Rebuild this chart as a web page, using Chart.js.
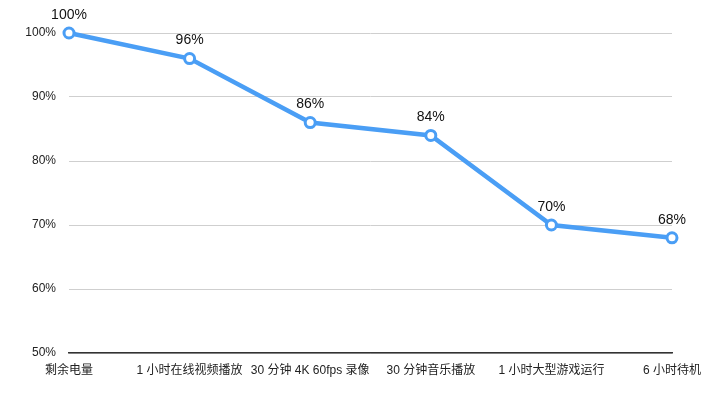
<!DOCTYPE html>
<html>
<head>
<meta charset="utf-8">
<script src="https://cdn.jsdelivr.net/npm/chart.js@4/dist/chart.umd.min.js"></script>
<style>
  html, body { margin: 0; padding: 0; background: #fff; }
  #wrap { width: 720px; height: 397px; }
</style>
</head>
<body>
<div id="wrap"><canvas id="batteryChart"></canvas></div>
<script>
const categories = ['剩余电量', '1 小时在线视频播放', '30 分钟 4K 60fps 录像', '30 分钟音乐播放', '1 小时大型游戏运行', '6 小时待机'];
const batteryLevels = [100, 96, 86, 84, 70, 68];

const FONT = '"Liberation Sans", "Noto Sans CJK SC", sans-serif';
const BLUE = 'rgb(74, 158, 245)';

// draws the value above each point
const valueLabels = {
  id: 'valueLabels',
  afterDatasetsDraw(chart) {
    const ctx = chart.ctx;
    const meta = chart.getDatasetMeta(0);
    ctx.save();
    ctx.font = '14px ' + FONT;
    ctx.fillStyle = '#111';
    ctx.textAlign = 'center';
    ctx.textBaseline = 'bottom';
    meta.data.forEach((pt, i) => {
      ctx.fillText(batteryLevels[i] + '%', pt.x, pt.y - 11);
    });
    ctx.restore();
  }
};

const ctx = document.getElementById('batteryChart').getContext('2d');
new Chart(ctx, {
  type: 'line',
  data: {
    labels: categories,
    datasets: [{
      data: batteryLevels,
      borderColor: BLUE,
      borderWidth: 4.5,
      pointRadius: 5,
      pointBorderWidth: 3,
      pointBackgroundColor: '#fff',
      pointBorderColor: BLUE,
      tension: 0,
      clip: false
    }]
  },
  options: {
    responsive: true,
    maintainAspectRatio: false,
    animation: false,
    layout: { padding: { top: 33, right: 48, left: 0, bottom: 0 } },
    plugins: {
      legend: { display: false },
      tooltip: { enabled: false }
    },
    scales: {
      x: {
        offset: false,
        grid: { display: false },
        border: { display: true, color: '#333', width: 1.5 },
        ticks: {
          color: '#222',
          font: { family: FONT, size: 12 },
          padding: 2,
          maxRotation: 0,
          autoSkip: false
        },
        afterFit(scale) { scale.height = 44; }
      },
      y: {
        min: 50,
        max: 100,
        grid: { color: '#cfcfcf', lineWidth: 1, drawTicks: false },
        border: { display: false },
        ticks: {
          stepSize: 10,
          color: '#222',
          font: { family: FONT, size: 12 },
          padding: 13,
          callback: v => v + '%'
        },
        afterFit(scale) { scale.width = 69; }
      }
    }
  },
  plugins: [valueLabels]
});
</script>
</body>
</html>
